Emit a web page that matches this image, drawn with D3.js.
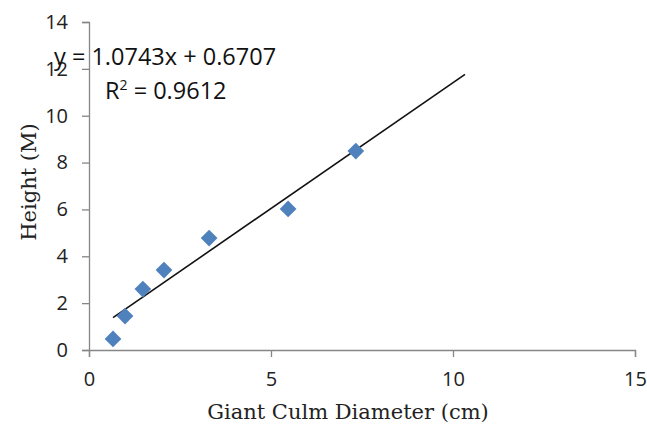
<!DOCTYPE html>
<html><head><meta charset="utf-8">
<script src="https://cdn.jsdelivr.net/npm/d3@7"></script>
<style>body{margin:0;background:#fff}</style>
</head><body>
<svg id="c" width="647" height="431"></svg>
<script>
const diameter = [0.66, 0.99, 1.48, 2.06, 3.30, 5.47, 7.33];
const height   = [0.47, 1.45, 2.60, 3.41, 4.78, 6.02, 8.49];
const slope = 1.0743, intercept = 0.6707, r2 = 0.9612;
const forecast = 3;
const xTicks = [0, 5, 10, 15];
const yTicks = [0, 2, 4, 6, 8, 10, 12, 14];

const svg = d3.select('#c');
const x = d3.scaleLinear().domain([0, 15]).range([89, 635]);
const y = d3.scaleLinear().domain([0, 14]).range([350, 22]);
const axisColor = '#868686';
const tickFont = '"Open Sans", "Liberation Sans", sans-serif';

const gx = svg.append('g').attr('transform', 'translate(0,350)')
  .call(d3.axisBottom(x).tickValues(xTicks).tickSizeOuter(0).tickSize(7).tickPadding(15));
const gy = svg.append('g').attr('transform', 'translate(89,0)')
  .call(d3.axisLeft(y).tickValues(yTicks).tickSizeOuter(0).tickSize(7).tickPadding(14));
[gx, gy].forEach(g => {
  g.selectAll('path,line').attr('stroke', axisColor).attr('stroke-width', 1.3);
  g.selectAll('text').attr('fill', '#222').style('font-family', tickFont).style('font-size', '20px');
});

// trendline
const x0 = d3.min(diameter), x1 = d3.max(diameter) + forecast;
svg.append('line')
  .attr('x1', x(x0)).attr('y1', y(slope * x0 + intercept))
  .attr('x2', x(x1)).attr('y2', y(slope * x1 + intercept))
  .attr('stroke', '#111').attr('stroke-width', 1.6);

// points
const sym = d3.symbol().type(d3.symbolSquare).size(140);
svg.append('g').selectAll('path').data(diameter).join('path')
  .attr('d', sym)
  .attr('transform', (d, i) => `translate(${x(d)},${y(height[i])}) rotate(45)`)
  .attr('fill', '#4F81BD');

// equation
svg.append('text').attr('x', 54).attr('y', 65)
  .style('font-family', tickFont).style('font-size', '23.5px').attr('fill', '#111')
  .text(`y = ${slope}x + ${intercept}`);
const rt = svg.append('text').attr('x', 105).attr('y', 99)
  .style('font-family', tickFont).style('font-size', '23.5px').attr('fill', '#111');
rt.append('tspan').text('R');
rt.append('tspan').attr('dy', -9).style('font-size', '14px').text('2');
rt.append('tspan').attr('dy', 9).text(` = ${r2}`);

// axis titles
const serif = '"DejaVu Serif", "Liberation Serif", serif';
svg.append('text').attr('x', 348).attr('y', 419).attr('text-anchor', 'middle')
  .style('font-family', serif).style('font-size', '21px').attr('fill', '#222')
  .text('Giant Culm Diameter (cm)');
svg.append('text').attr('transform', 'translate(36,182) rotate(-90)').attr('text-anchor', 'middle')
  .style('font-family', serif).style('font-size', '21px').attr('fill', '#222')
  .text('Height (M)');
</script>
</body></html>
